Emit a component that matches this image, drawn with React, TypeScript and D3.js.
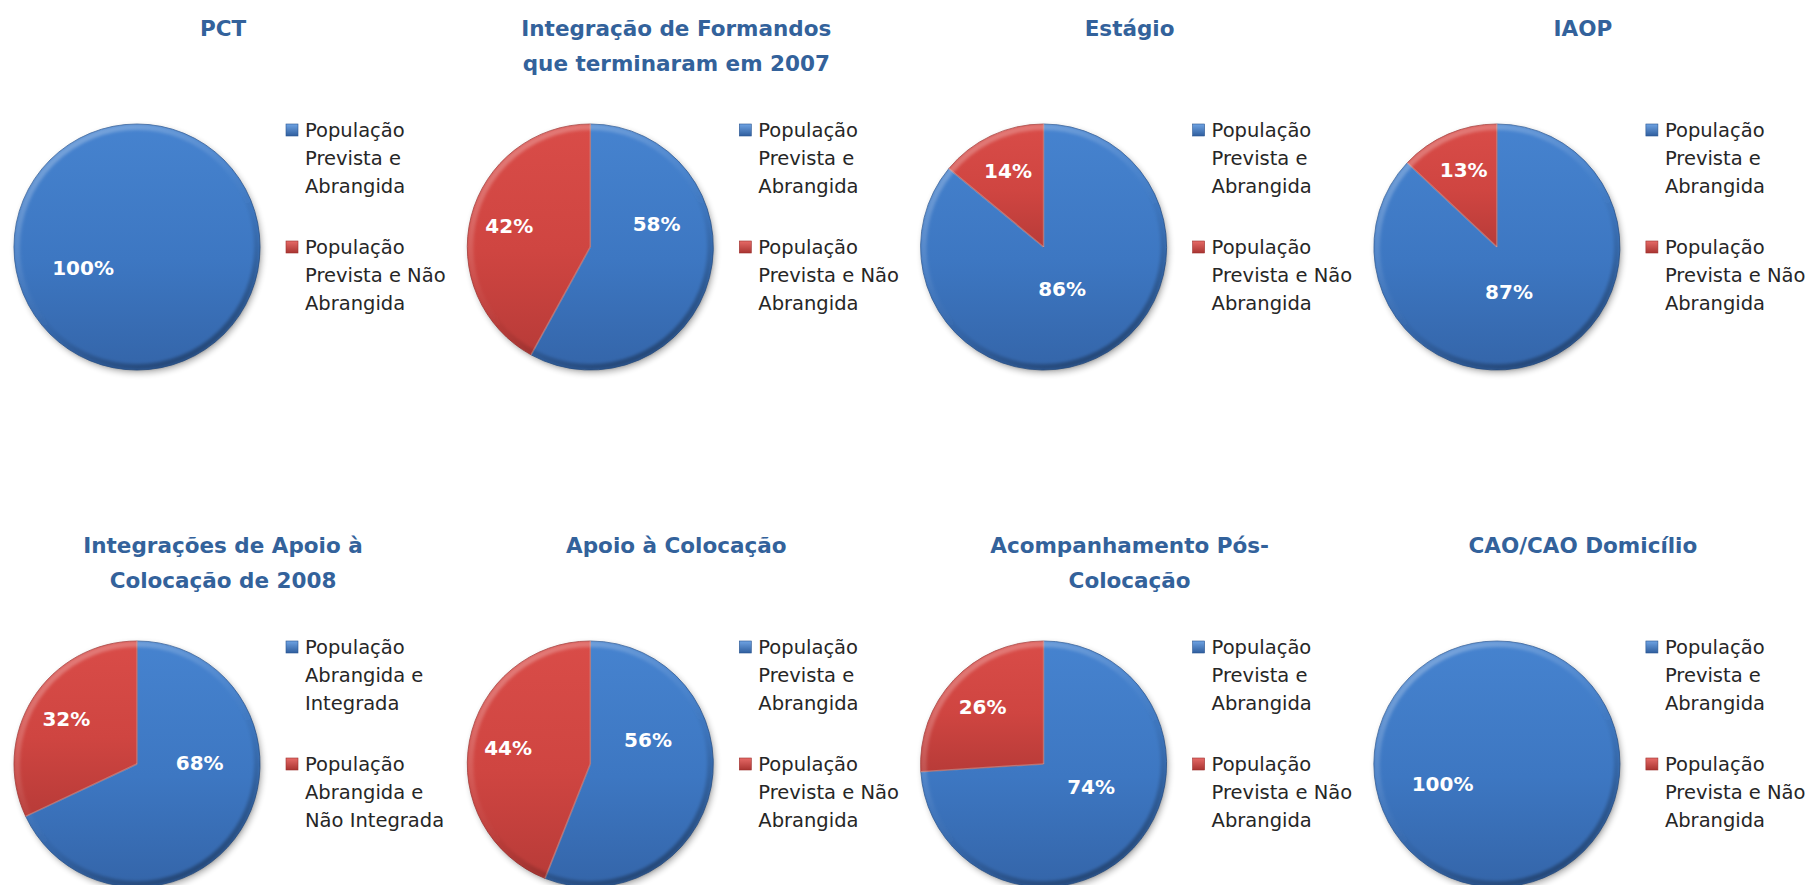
import React from "react";
import * as d3 from "d3";

// ---- data ----
const titles: string[][] = [
  ["PCT"],
  ["Integração de Formandos", "que terminaram em 2007"],
  ["Estágio"],
  ["IAOP"],
  ["Integrações de Apoio à", "Colocação de 2008"],
  ["Apoio à Colocação"],
  ["Acompanhamento Pós-", "Colocação"],
  ["CAO/CAO Domicílio"],
];
const abrangida = [100, 58, 86, 87, 68, 56, 74, 100];
const naoAbrangida = [0, 42, 14, 13, 32, 44, 26, 0];
const legendDefault = [
  ["População", "Prevista e", "Abrangida"],
  ["População", "Prevista e Não", "Abrangida"],
];
const legendIntegr = [
  ["População", "Abrangida e", "Integrada"],
  ["População", "Abrangida e", "Não Integrada"],
];
const legendSets = [0, 0, 0, 0, 1, 0, 0, 0];
// where the blue label sits: [angle deg clockwise from 12h, fraction of radius]
const blueLabelAt: [number, number][] = [
  [249, 0.47], [71, 0.57], [156, 0.37], [165, 0.38],
  [89, 0.51], [67, 0.51], [116, 0.43], [250, 0.47],
];

const W = 1807, H = 885;
const R = 123;
const colX = (i: number) => 137 + (i % 4) * 453.3;
const rowY = (i: number) => 247 + Math.floor(i / 4) * 517;

const BLUE = ["#4683CF", "#3D77C2", "#3465A9", "#2A5590"];
const RED = ["#D94C48", "#CF4541", "#B83B38", "#9C302D"];

function Panel({ i }: { i: number }) {
  const cx = colX(i), cy = rowY(i);
  const vals = [abrangida[i], naoAbrangida[i]];
  const pie = d3.pie<number>().sort(null).value((d) => d).startAngle(0).endAngle(2 * Math.PI);
  const arcs = pie(vals);
  const arc = d3.arc<d3.PieArcDatum<number>>().innerRadius(0).outerRadius(R);
  const labelArc = d3.arc<d3.PieArcDatum<number>>().innerRadius(R * 0.68).outerRadius(R * 0.68);
  const legend = legendSets[i] === 1 ? legendIntegr : legendDefault;
  const [ba, bf] = blueLabelAt[i];
  const bRad = (ba * Math.PI) / 180;
  const blueLabel: [number, number] = [Math.sin(bRad) * bf * R, -Math.cos(bRad) * bf * R];
  const tx = cx + 86;
  const ty = cy - 219;
  const lx = cx + 168;
  return (
    <g>
      {titles[i].map((t, k) => (
        <text key={k} x={tx} y={ty + k * 35} textAnchor="middle" dominantBaseline="central"
          fontFamily="DejaVu Sans" fontWeight="bold" fontSize={21.5} fill="#33629B">{t}</text>
      ))}
      <g transform={`translate(${cx},${cy})`}>
        <circle r={R} fill="#000" opacity={0.3} filter="url(#shadow)" transform="translate(2,3)" />
        {arcs.map((a, k) => (a.value > 0 ? (
          <path key={k} d={arc(a) || ""} fill={k === 0 ? "url(#gBlue)" : "url(#gRed)"}
            stroke={k === 0 ? BLUE[3] : RED[3]} strokeWidth={0.8} />
        ) : null))}
        {arcs.map((a, k) => (a.value > 0 && a.value < 100 ? (
          <path key={"e" + k} d={`M0,0L${Math.sin(a.startAngle) * R},${-Math.cos(a.startAngle) * R}`}
            stroke="#ffffff" strokeOpacity={0.3} strokeWidth={1.5} fill="none" />
        ) : null))}
        <circle r={R - 3} fill="none" stroke="url(#gBevel)" strokeWidth={6} filter="url(#soft)" />
        {arcs.map((a, k) => {
          if (a.value <= 0) return null;
          const [x, y] = k === 0 ? blueLabel : labelArc.centroid(a);
          return (
            <text key={"l" + k} x={x} y={y} textAnchor="middle" dominantBaseline="central"
              fontFamily="DejaVu Sans" fontWeight="bold" fontSize={20} fill="#fff">
              {`${a.value}%`}
            </text>
          );
        })}
      </g>
      {legend.map((lines, k) => {
        const y0 = cy - 117 + k * 117;
        return (
          <g key={"lg" + k}>
            <rect x={lx - 19} y={y0 - 6} width={12} height={12}
              fill={k === 0 ? "url(#gBlueSq)" : "url(#gRedSq)"} stroke={k === 0 ? BLUE[3] : RED[3]} strokeWidth={0.6} />
            {lines.map((ln, j) => (
              <text key={j} x={lx} y={y0 + j * 28} dominantBaseline="central"
                fontFamily="DejaVu Sans" fontSize={19.5} fill="#262626">{ln}</text>
            ))}
          </g>
        );
      })}
    </g>
  );
}

export default function App() {
  const idx = d3.range(8);
  return (
    <svg width={W} height={H} style={{ position: "absolute", left: 0, top: 0, display: "block", background: "#fff" }}>
      <defs>
        <linearGradient id="gBlue" x1="0" y1="0" x2="0" y2="1">
          <stop offset="0%" stopColor={BLUE[0]} />
          <stop offset="55%" stopColor={BLUE[1]} />
          <stop offset="100%" stopColor={BLUE[2]} />
        </linearGradient>
        <linearGradient id="gRed" x1="0" y1="0" x2="0" y2="1">
          <stop offset="0%" stopColor={RED[0]} />
          <stop offset="55%" stopColor={RED[1]} />
          <stop offset="100%" stopColor={RED[2]} />
        </linearGradient>
        <linearGradient id="gBlueSq" x1="0" y1="0" x2="0" y2="1">
          <stop offset="0%" stopColor="#6FA3E3" />
          <stop offset="100%" stopColor="#2F5E9E" />
        </linearGradient>
        <linearGradient id="gRedSq" x1="0" y1="0" x2="0" y2="1">
          <stop offset="0%" stopColor="#E66A67" />
          <stop offset="100%" stopColor="#A93431" />
        </linearGradient>
        <linearGradient id="gBevel" x1="0.2" y1="0" x2="0.8" y2="1">
          <stop offset="0%" stopColor="#ffffff" stopOpacity={0.3} />
          <stop offset="45%" stopColor="#ffffff" stopOpacity={0.04} />
          <stop offset="60%" stopColor="#000000" stopOpacity={0.05} />
          <stop offset="100%" stopColor="#000000" stopOpacity={0.35} />
        </linearGradient>
        <filter id="shadow" x="-20%" y="-20%" width="140%" height="140%">
          <feGaussianBlur stdDeviation="3" />
        </filter>
        <filter id="soft" x="-10%" y="-10%" width="120%" height="120%">
          <feGaussianBlur stdDeviation="1.5" />
        </filter>
      </defs>
      {idx.map((i) => <Panel key={i} i={i} />)}
    </svg>
  );
}
